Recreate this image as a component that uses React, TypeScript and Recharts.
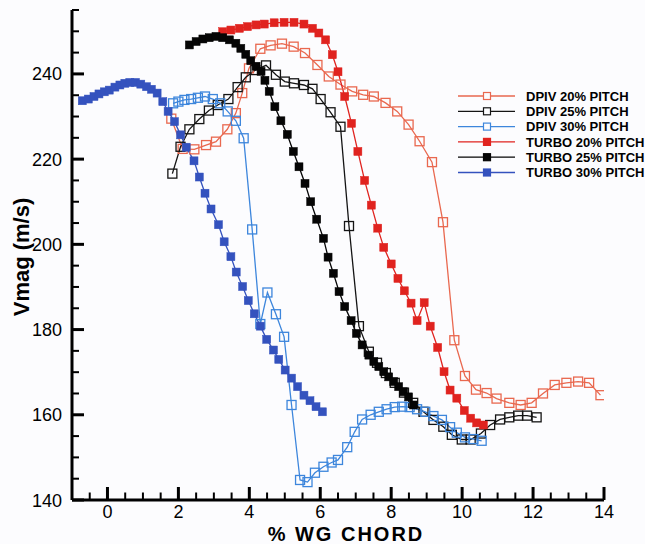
import React from 'react';
import { LineChart, Line, XAxis, YAxis, Legend } from 'recharts';

// ---- data: [% WG chord, Vmag (m/s)] ----
const dpiv20: [number, number][] = [
  [1.80, 229.5], [2.12, 222.4], [2.45, 222.3], [2.78, 223.3], [3.06, 224.1], [3.38, 227.0],
  [3.62, 230.8], [3.80, 235.5], [3.99, 241.3], [4.31, 245.9], [4.60, 246.7], [4.92, 247.1],
  [5.25, 246.4], [5.57, 244.9], [5.92, 242.1], [6.24, 239.4], [6.57, 237.5], [6.90, 235.9],
  [7.21, 235.1], [7.51, 234.7], [7.84, 233.2], [8.17, 231.2], [8.49, 228.1], [8.80, 224.2],
  [9.15, 219.3], [9.46, 205.2], [9.78, 177.5], [10.08, 169.1], [10.39, 165.9], [10.69, 165.1],
  [10.97, 163.8], [11.33, 162.8], [11.65, 162.3], [11.96, 162.8], [12.28, 165.0], [12.61, 167.0],
  [12.94, 167.5], [13.27, 167.8], [13.58, 167.5], [13.90, 164.6],
];
const dpiv25: [number, number][] = [
  [1.83, 216.6], [2.06, 222.9], [2.31, 227.0], [2.59, 229.4], [2.86, 231.4], [3.11, 232.7],
  [3.41, 234.1], [3.67, 236.9], [3.90, 239.2], [4.17, 240.9], [4.47, 242.0], [4.75, 239.8],
  [5.00, 238.2], [5.26, 237.8], [5.54, 237.4], [5.78, 236.5], [6.01, 234.1], [6.29, 231.0],
  [6.57, 227.6], [6.81, 204.3], [7.09, 180.8], [7.37, 174.8], [7.60, 172.2], [7.85, 169.8],
  [8.10, 167.5], [8.36, 165.2], [8.62, 162.8], [8.91, 160.7], [9.19, 158.8], [9.47, 157.2],
  [9.71, 155.3], [9.99, 154.2], [10.24, 154.2], [10.53, 155.6], [10.79, 157.6], [11.07, 158.9],
  [11.33, 159.4], [11.58, 159.8], [11.83, 159.8], [12.10, 159.4],
];
const dpiv30: [number, number][] = [
  [1.85, 233.1], [2.00, 233.5], [2.17, 233.9], [2.36, 234.1], [2.55, 234.4], [2.75, 234.7],
  [2.97, 234.1], [3.18, 233.1], [3.39, 231.2], [3.62, 229.0], [3.84, 224.9], [4.08, 203.5],
  [4.31, 181.3], [4.51, 188.7], [4.75, 183.6], [4.98, 178.3], [5.19, 162.3], [5.43, 144.7],
  [5.64, 144.2], [5.85, 146.4], [6.09, 147.8], [6.32, 148.8], [6.50, 149.4], [6.76, 152.4],
  [6.97, 156.0], [7.18, 158.9], [7.42, 160.0], [7.65, 160.7], [7.87, 161.3], [8.10, 161.8],
  [8.31, 161.9], [8.52, 161.8], [8.73, 161.3], [8.96, 160.7], [9.19, 159.7], [9.43, 158.8],
  [9.66, 157.1], [9.85, 155.8], [10.08, 154.7], [10.32, 154.3], [10.55, 153.9],
];
const turbo20: [number, number][] = [
  [3.25, 249.9], [3.48, 250.3], [3.72, 250.7], [3.95, 251.1], [4.19, 251.5], [4.42, 251.7],
  [4.70, 252.0], [4.98, 252.1], [5.26, 252.1], [5.54, 251.7], [5.78, 250.7], [5.96, 249.6],
  [6.15, 248.0], [6.34, 244.5], [6.50, 240.5], [6.69, 234.7], [6.88, 228.4], [7.06, 221.8],
  [7.25, 215.0], [7.44, 209.2], [7.62, 203.8], [7.79, 199.3], [8.00, 195.4], [8.19, 192.0],
  [8.37, 189.1], [8.56, 186.2], [8.73, 182.1], [8.93, 186.3], [9.10, 180.8], [9.31, 175.8],
  [9.49, 170.1], [9.66, 165.8], [9.85, 163.9], [10.06, 161.0], [10.24, 159.2], [10.41, 158.1],
  [10.60, 157.6],
];
const turbo25: [number, number][] = [
  [2.31, 246.8], [2.50, 247.6], [2.69, 248.2], [2.87, 248.5], [3.06, 248.8], [3.25, 248.5],
  [3.44, 248.0], [3.62, 247.2], [3.76, 246.0], [3.90, 244.6], [4.04, 243.1], [4.19, 241.8],
  [4.33, 240.6], [4.44, 238.5], [4.56, 235.9], [4.72, 232.3], [4.89, 229.0], [5.07, 225.8],
  [5.24, 221.8], [5.40, 218.2], [5.57, 214.3], [5.73, 210.0], [5.90, 205.9], [6.09, 201.4],
  [6.22, 197.0], [6.37, 193.2], [6.53, 188.9], [6.69, 185.4], [6.87, 182.1], [7.02, 179.1],
  [7.18, 176.4], [7.37, 174.0], [7.51, 172.5], [7.65, 171.3], [7.79, 170.1], [7.93, 168.9],
  [8.07, 167.8], [8.21, 166.6], [8.35, 165.4], [8.49, 164.2], [8.63, 162.3],
];
const turbo30: [number, number][] = [
  [-0.71, 233.7], [-0.54, 234.1], [-0.38, 234.7], [-0.24, 235.3], [-0.09, 235.8], [0.05, 236.2],
  [0.21, 236.9], [0.35, 237.4], [0.49, 237.8], [0.63, 238.0], [0.79, 238.0], [0.94, 237.6],
  [1.10, 237.0], [1.24, 236.4], [1.40, 235.5], [1.56, 233.5], [1.71, 231.2], [1.89, 228.8],
  [2.06, 225.7], [2.22, 222.8], [2.44, 219.6], [2.59, 215.8], [2.75, 212.0], [2.92, 208.3],
  [3.13, 204.6], [3.29, 200.6], [3.48, 197.1], [3.63, 193.5], [3.81, 190.1], [3.97, 186.8],
  [4.14, 183.7], [4.31, 180.8], [4.49, 177.7], [4.68, 175.2], [4.83, 173.0], [5.01, 170.5],
  [5.19, 168.6], [5.36, 166.6], [5.54, 164.6], [5.71, 163.3], [5.88, 161.9], [6.06, 160.7],
];

const seriesNames = [
  'DPIV 20% PITCH', 'DPIV 25% PITCH', 'DPIV 30% PITCH',
  'TURBO 20% PITCH', 'TURBO 25% PITCH', 'TURBO 30% PITCH',
];
const seriesValues = [dpiv20, dpiv25, dpiv30, turbo20, turbo25, turbo30];
const seriesColors = ['#E9684F', '#141414', '#3D86DC', '#E0231F', '#050505', '#3452BE'];
const seriesOpen = [true, true, true, false, false, false];

const xTicks = [-0.5, 0, 0.5, 1, 1.5, 2, 2.5, 3, 3.5, 4, 4.5, 5, 5.5, 6, 6.5, 7, 7.5, 8, 8.5, 9, 9.5, 10, 10.5, 11, 11.5, 12, 12.5, 13, 13.5, 14];
const xLabels = [0, 2, 4, 6, 8, 10, 12, 14];
const yTicks = [140, 145, 150, 155, 160, 165, 170, 175, 180, 185, 190, 195, 200, 205, 210, 215, 220, 225, 230, 235, 240, 245, 250, 255];
const yLabels = [140, 160, 180, 200, 220, 240];

const FONT = '"Liberation Sans", Arial, Helvetica, sans-serif';

const series = seriesNames.map((name, i) => ({
  name,
  color: seriesColors[i],
  open: seriesOpen[i],
  data: seriesValues[i].map(([x, y]) => ({ x, y })),
}));

const XTick = (props: any) => {
  const { x, y, payload } = props;
  const v = payload.value;
  const major = xLabels.includes(v);
  return (
    <g>
      <line x1={x} x2={x} y1={y} y2={y - (major ? 13 : 7.5)} stroke="#000" strokeWidth={major ? 3 : 2} />
      {major && (
        <text x={x} y={y + 18} textAnchor="middle" fontSize={18} fontFamily={FONT} fill="#000">
          {v}
        </text>
      )}
    </g>
  );
};

const YTick = (props: any) => {
  const { x, y, payload } = props;
  const v = payload.value;
  const major = yLabels.includes(v);
  return (
    <g>
      <line x1={x} x2={x + (major ? 12 : 7)} y1={y} y2={y} stroke="#000" strokeWidth={major ? 3 : 2} />
      {major && (
        <text x={x - 10} y={y + 6.5} textAnchor="end" fontSize={18} fontFamily={FONT} fill="#000">
          {v}
        </text>
      )}
    </g>
  );
};

const XTitle = (props: any) => {
  const vb = props.viewBox || { x: 72, y: 500, width: 532 };
  return (
    <text x={vb.x + vb.width / 2 + 8} y={vb.y + 41} textAnchor="middle" fontSize={20} letterSpacing={2} fontWeight="bold" fontFamily={FONT} fill="#000">
      % WG CHORD
    </text>
  );
};

const YTitle = (props: any) => {
  const vb = props.viewBox || { x: 0, y: 10, height: 490 };
  const cx = 21;
  const cy = vb.y + vb.height / 2 + 2;
  return (
    <text x={cx} y={cy} transform={`rotate(-90 ${cx} ${cy})`} textAnchor="middle" dominantBaseline="central" fontSize={22} fontWeight="bold" fontFamily={FONT} fill="#000">
      Vmag (m/s)
    </text>
  );
};

const LegendBox = () => (
  <svg width={190} height={100} style={{ display: 'block' }}>
    {series.map((s, i) => {
      const cy = 8 + i * 15.3;
      return (
        <g key={s.name}>
          <line x1={3} x2={60} y1={cy} y2={cy} stroke={s.color} strokeWidth={1.3} />
          <rect x={28.5} y={cy - 3.5} width={7} height={7} fill={s.open ? '#fcfcfe' : s.color} stroke={s.color} strokeWidth={1.2} />
          <text x={71} y={cy + 4.6} fontSize={13} fontWeight="bold" fontFamily={FONT} fill="#000">
            {s.name}
          </text>
        </g>
      );
    })}
  </svg>
);

const makeDot = (color: string, open: boolean, name: string) => (p: any) => {
  const size = open ? 9 : 8;
  return (
    <rect
      key={`${name}-${p.index}`}
      x={p.cx - size / 2}
      y={p.cy - size / 2}
      width={size}
      height={size}
      fill={open ? 'none' : color}
      stroke={color}
      strokeWidth={open ? 1.3 : 0.5}
    />
  );
};

export default function App() {
  return (
    <div style={{ position: 'absolute', left: 0, top: 0, width: 645, height: 544, background: '#fcfcfe' }}>
      <LineChart width={645} height={544} margin={{ top: 10, right: 41, bottom: 0, left: 0 }}>
        <XAxis
          type="number"
          dataKey="x"
          domain={[-1, 14]}
          ticks={xTicks}
          interval={0}
          tickSize={0}
          tickMargin={0}
          tickLine={false}
          tick={<XTick />}
          axisLine={{ stroke: '#000', strokeWidth: 3 }}
          height={44}
          allowDataOverflow
          label={<XTitle />}
        />
        <YAxis
          type="number"
          dataKey="y"
          domain={[140, 255]}
          ticks={yTicks}
          interval={0}
          tickSize={0}
          tickMargin={0}
          tickLine={false}
          tick={<YTick />}
          axisLine={{ stroke: '#000', strokeWidth: 3 }}
          width={72}
          allowDataOverflow
          label={<YTitle />}
        />
        {series.map((s) => (
          <Line
            key={s.name}
            name={s.name}
            data={s.data}
            dataKey="y"
            type="linear"
            stroke={s.color}
            strokeWidth={1.3}
            dot={makeDot(s.color, s.open, s.name)}
            activeDot={false}
            isAnimationActive={false}
          />
        ))}
        <Legend
          layout="vertical"
          align="center"
          verticalAlign="middle"
          content={<LegendBox />}
          wrapperStyle={{ left: 455, top: 88, width: 190, height: 100 }}
        />
      </LineChart>
    </div>
  );
}
